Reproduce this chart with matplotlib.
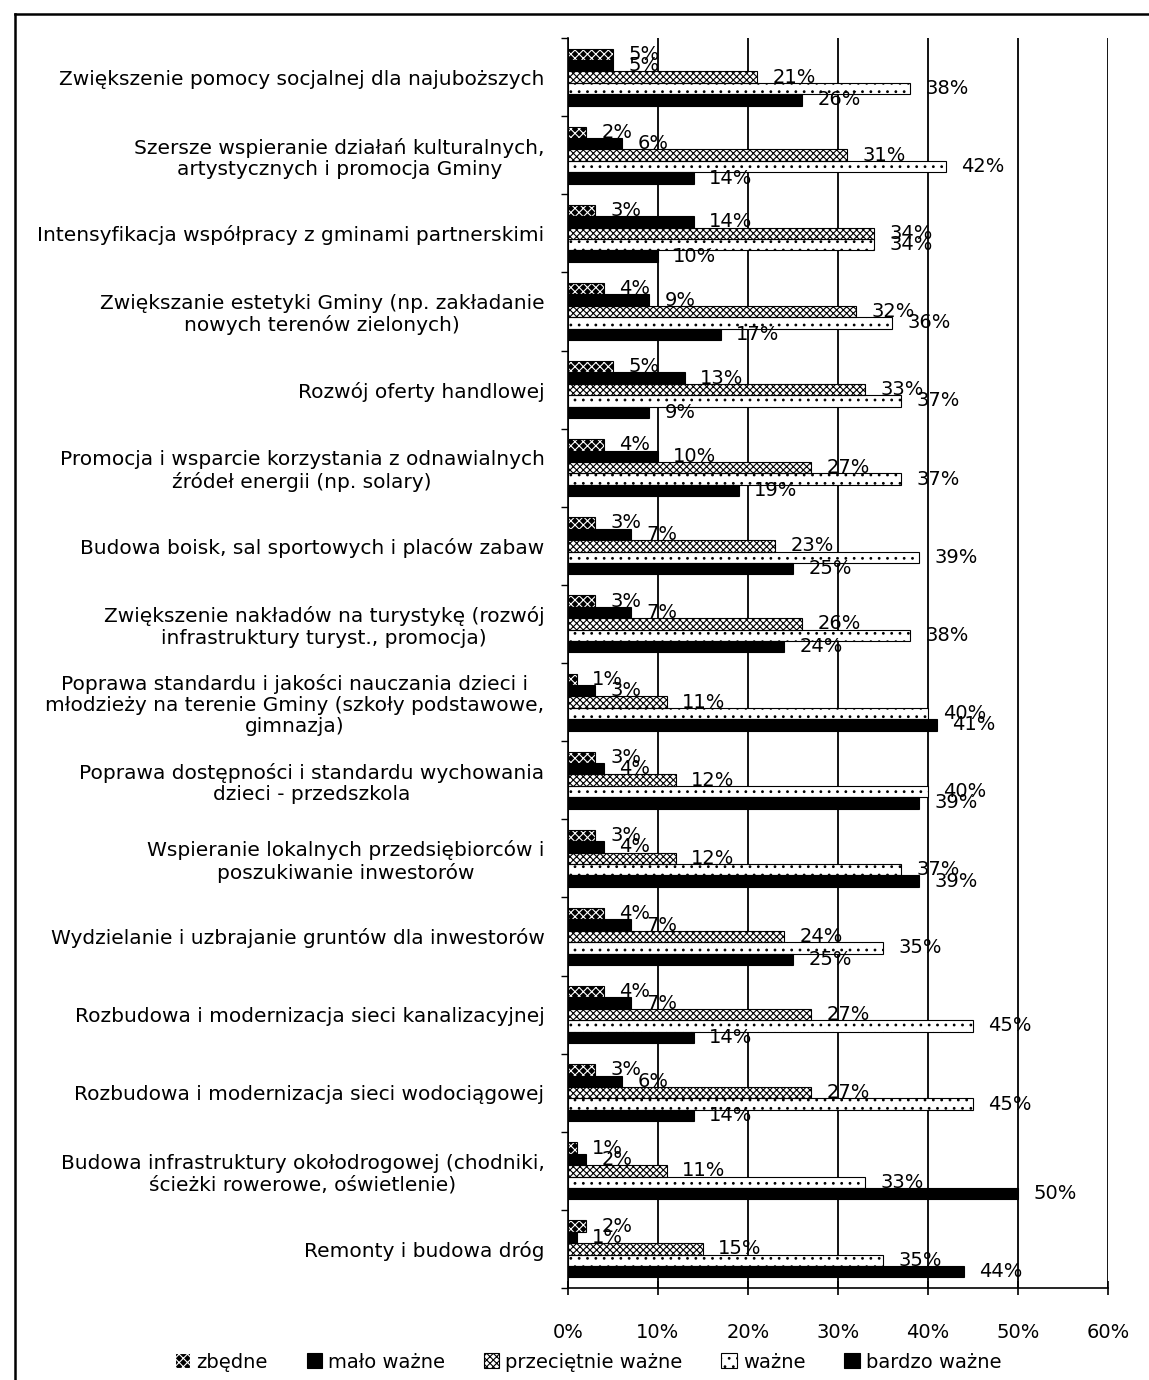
import matplotlib
matplotlib.use("Agg")
import matplotlib.pyplot as plt
from matplotlib.lines import Line2D
from matplotlib.patches import Patch
import numpy as np

plt.rcParams['font.family'] = ['DejaVu Sans']

categories = [
    "Zwiększenie pomocy socjalnej dla najuboższych",
    "Szersze wspieranie działań kulturalnych,\nartystycznych i promocja Gminy",
    "Intensyfikacja współpracy z gminami partnerskimi",
    "Zwiększanie estetyki Gminy (np. zakładanie\nnowych terenów zielonych)",
    "Rozwój oferty handlowej",
    "Promocja i wsparcie korzystania z odnawialnych\nźródeł energii (np. solary)",
    "Budowa boisk, sal sportowych i placów zabaw",
    "Zwiększenie nakładów na turystykę (rozwój\ninfrastruktury turyst., promocja)",
    "Poprawa standardu i jakości nauczania dzieci i\nmłodzieży na terenie Gminy (szkoły podstawowe,\ngimnazja)",
    "Poprawa dostępności i standardu wychowania\ndzieci - przedszkola",
    "Wspieranie lokalnych przedsiębiorców i\nposzukiwanie inwestorów",
    "Wydzielanie i uzbrajanie gruntów dla inwestorów",
    "Rozbudowa i modernizacja sieci kanalizacyjnej",
    "Rozbudowa i modernizacja sieci wodociągowej",
    "Budowa infrastruktury okołodrogowej (chodniki,\nścieżki rowerowe, oświetlenie)",
    "Remonty i budowa dróg",
]

series_names = ["zbędne", "mało ważne", "przeciętnie ważne", "ważne", "bardzo ważne"]

zbedne = [5, 2, 3, 4, 5, 4, 3, 3, 1, 3, 3, 4, 4, 3, 1, 2]
malo_wazne = [5, 6, 14, 9, 13, 10, 7, 7, 3, 4, 4, 7, 7, 6, 2, 1]
przecietnie_wazne = [21, 31, 34, 32, 33, 27, 23, 26, 11, 12, 12, 24, 27, 27, 11, 15]
wazne = [38, 42, 34, 36, 37, 37, 39, 38, 40, 40, 37, 35, 45, 45, 33, 35]
bardzo_wazne = [26, 14, 10, 17, 9, 19, 25, 24, 41, 39, 39, 25, 14, 14, 50, 44]

series = [zbedne, malo_wazne, przecietnie_wazne, wazne, bardzo_wazne]

# style: (facecolor, hatchcolor, hatch)
styles = [
    ("black", "white", "xxxx"),
    ("black", "black", None),
    ("white", "black", "xxxxx"),
    ("white", "black", ".."),
    ("black", "black", None),
]

W, H = 1149, 1380
fig = plt.figure(figsize=(W / 100, H / 100), dpi=100)
ax = fig.add_axes([568 / W, 1 - 1288 / H, (1108 - 568) / W, (1288 - 38) / H])

n = len(categories)
y = np.arange(n)
bh = 0.146
plt.rcParams['hatch.linewidth'] = 0.8

FS = 14
handles = []
for j, (vals, name, (fc, hc, hatch)) in enumerate(zip(series, series_names, styles)):
    pos = y + (j - 2) * bh
    ax.barh(pos, vals, height=bh, color=fc, edgecolor=hc, linewidth=0,
            hatch=hatch, zorder=3)
    ax.barh(pos, vals, height=bh, fill=False, edgecolor="black",
            linewidth=0.8, zorder=4)
    for p, v in zip(pos, vals):
        ax.annotate(f"{v}%", (v, p), xytext=(11, 0), textcoords="offset points",
                    va="center", ha="left", fontsize=FS, zorder=5)
    handles.append(Patch(facecolor=fc, edgecolor=hc, hatch=hatch, linewidth=0.8,
                         label=name))

ax.set_xlim(0, 60)
ax.set_ylim(n - 0.5, -0.5)
ax.set_xticks(np.arange(0, 61, 10))
ax.set_xticklabels([f"{t}%" for t in range(0, 61, 10)], fontsize=FS)
ax.set_yticks(y)
ax.set_yticklabels(categories, fontsize=14.5, ha="right", multialignment="center",
                   linespacing=1.15)
ax.set_yticks(np.arange(-0.5, n, 1.0), minor=True)
ax.tick_params(axis="y", which="major", length=0, pad=17)
ax.tick_params(axis="y", which="minor", length=5, direction="out", width=1)
ax.tick_params(axis="x", which="major", length=10, direction="inout", width=1.2, pad=20)

ax.grid(axis="x", color="black", linewidth=1.3, zorder=0)
for s in ["top", "right"]:
    ax.spines[s].set_visible(False)
ax.spines["left"].set_linewidth(1.2)
ax.spines["bottom"].set_linewidth(1.2)

fig.legend(handles=handles, loc="center", bbox_to_anchor=(588 / W, 1 - 1362 / H),
           ncol=5, frameon=False, fontsize=FS, handlelength=0.8, handleheight=0.8,
           handletextpad=0.3, columnspacing=2.0)

# outer border
fig.add_artist(Line2D([15 / W, 15 / W], [0, 1 - 14 / H], color="black", linewidth=1.8,
                      transform=fig.transFigure))
fig.add_artist(Line2D([15 / W, 1], [1 - 14 / H, 1 - 14 / H], color="black", linewidth=1.8,
                      transform=fig.transFigure))

fig.savefig("out.png", dpi=100)
